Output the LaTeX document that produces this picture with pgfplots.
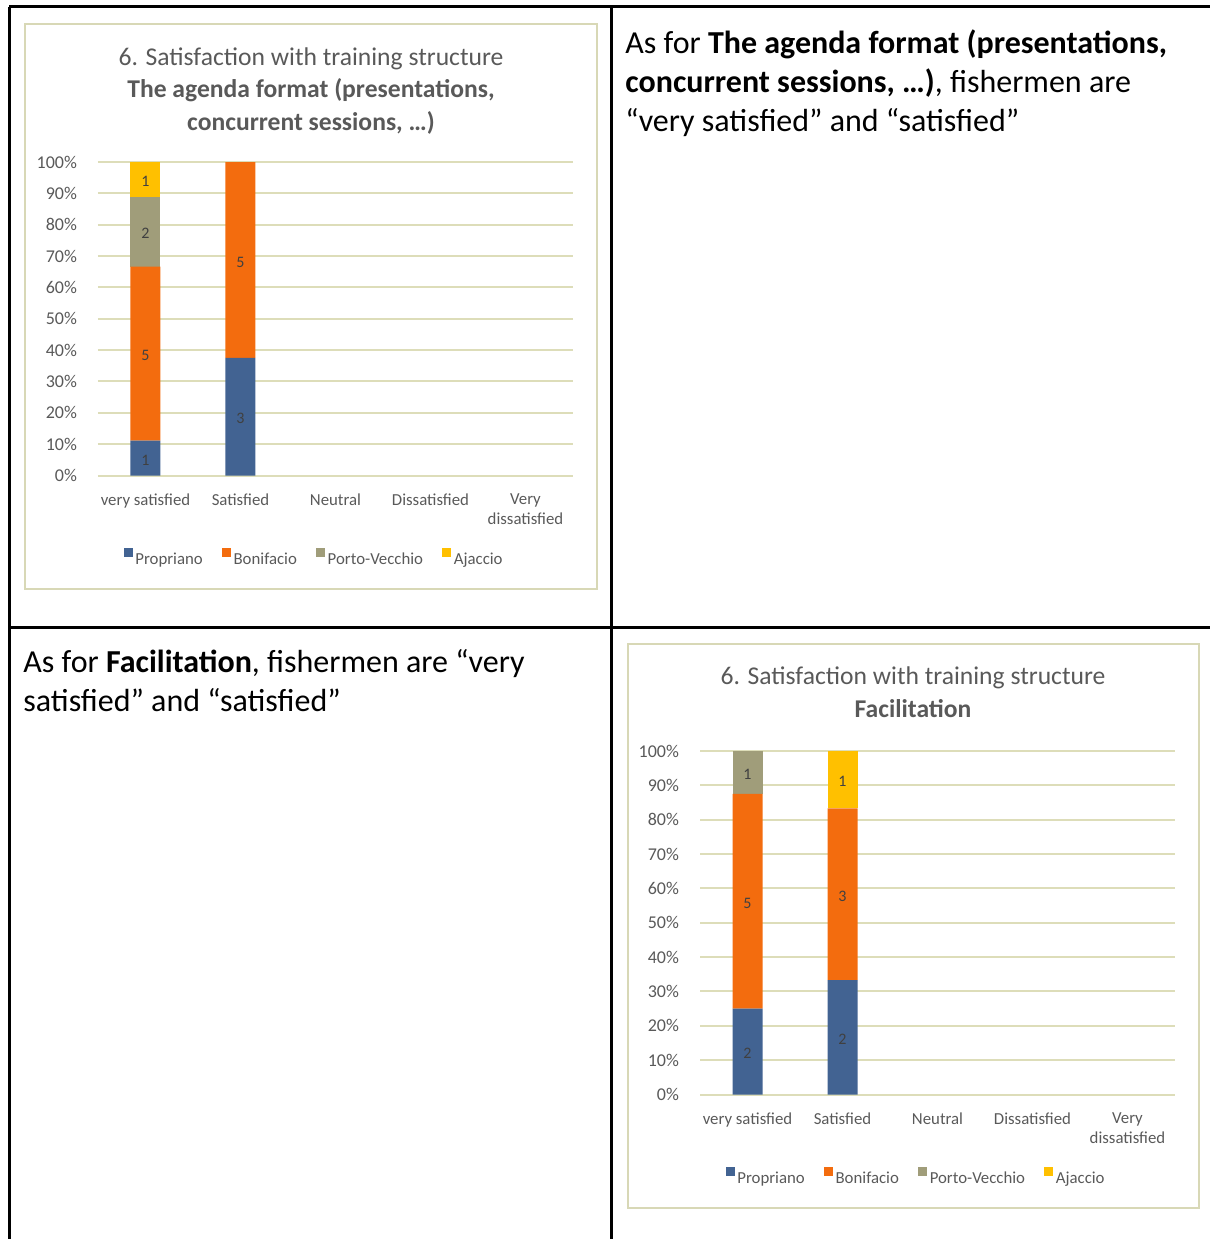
\documentclass[border=0pt]{standalone}
\usepackage{fontspec}
\setmainfont{Carlito}
\usepackage{pgfplots}
\usepackage{pgfplotstable}
\pgfplotsset{compat=1.18}

\definecolor{cProp}{RGB}{66,99,146}
\definecolor{cBon}{RGB}{243,108,14}
\definecolor{cPV}{RGB}{160,157,122}
\definecolor{cAj}{RGB}{255,192,0}
\definecolor{gridc}{RGB}{221,221,185}
\definecolor{framec}{RGB}{216,216,182}
\definecolor{txtgray}{RGB}{89,89,89}
\definecolor{lblgray}{RGB}{64,64,64}

% number of answers per town; cat 0 = very satisfied, 1 = satisfied
\pgfplotstableread{
cat prop bon pv aj total
0   1    5   2  1  9
1   3    5   0  0  8
}\agenda
\pgfplotstableread{
cat prop bon pv aj total
0   2    5   1  0  8
1   2    3   0  1  6
}\facil

\pgfplotsset{
  satisfaction/.style={
    scale only axis,
    anchor=south west,
    width=237.5pt,
    ybar stacked,
    bar width=15pt,
    ymin=0, ymax=100,
    xmin=-0.5, xmax=4.5,
    enlargelimits=false,
    xtick={0,...,4},
    xticklabels={very satisfied,Satisfied,Neutral,Dissatisfied,Very\\dissatisfied},
    xticklabel style={align=center, font=\fontsize{8.4}{10}\selectfont,
      text=txtgray, yshift=-5.5pt},
    ytick={0,10,...,100},
    yticklabel={\pgfmathprintnumber{\tick}\%},
    yticklabel style={font=\fontsize{9}{10}\selectfont, text=txtgray, xshift=-7pt},
    /pgf/number format/assume math mode=true,
    ymajorgrids,
    grid style={gridc, line width=1pt},
    axis line style={draw=none},
    major tick length=0pt,
    point meta=explicit,
    % the count of answers, in the middle of its segment
    nodes near coords={\pgfmathfloatifflags{\pgfplotspointmeta}{0}{}{\pgfmathprintnumber{\pgfplotspointmeta}}},
    every node near coord/.append style={anchor=center, text=lblgray,
      font=\fontsize{8}{9}\selectfont, yshift=-1pt},
    legend columns=4,
    legend style={draw=none, fill=none, anchor=center,
      font=\fontsize{8.4}{10}\selectfont, text=txtgray,
      nodes={inner xsep=1.2pt},
      /tikz/every even column/.append style={column sep=8.5pt}},
    legend image code/.code={\fill[##1] (0pt,1.5pt) rectangle (4.5pt,6pt);},
  },
  town/.style={fill=#1, draw=none},
}

\begin{document}
\begin{tikzpicture}
\begin{scope}[x=0.5pt, y=-0.5pt]
  \path[use as bounding box] (0,0) rectangle (1210,1239);
  % table rules
  \draw[line width=1.5pt] (9.3,6.5) -- (1210,6.5);
  \draw[line width=1.5pt] (9.3,6.5) -- (9.3,1239);
  \draw[line width=1.5pt] (611.5,6.5) -- (611.5,1239);
  \draw[line width=1.75pt] (9.3,627.5) -- (1210,627.5);
  % chart frames
  \draw[framec, line width=0.8pt] (25,24) rectangle (597,589);
  \draw[framec, line width=0.8pt] (628,644) rectangle (1199,1208);
  % chart titles (placed at the baseline of their last line)
  \node[anchor=base, align=center, text=txtgray,
        font=\fontsize{12.8}{16.25}\selectfont] at (311,130)
    {6. Satisfaction with training structure\\
     \textbf{The agenda format (presentations,}\\
     \textbf{concurrent sessions, …)}};
  \node[anchor=base, align=center, text=txtgray,
        font=\fontsize{12.8}{16.25}\selectfont] at (913,717)
    {6. Satisfaction with training structure\\
     \textbf{Facilitation}};
  % comments in the cells
  \node[anchor=base west, align=left, inner sep=0pt,
        font=\fontsize{16}{19.5}\selectfont] at (625,131)
    {As for \textbf{The agenda format (presentations,}\\
     \textbf{concurrent sessions, …)}, fishermen are\\
     “very satisfied” and “satisfied”};
  \node[anchor=base west, align=left, inner sep=0pt,
        font=\fontsize{16}{19.5}\selectfont] at (23,711)
    {As for \textbf{Facilitation}, fishermen are “very\\
     satisfied” and “satisfied”};
\end{scope}

% agenda format chart
\begin{axis}[satisfaction, at={(49pt,-237.75pt)}, height=156.75pt,
  legend style={at={(0.4558,-0.2695)}}]
  \addplot[town=cProp] table[x=cat, y expr={100*\thisrow{prop}/\thisrow{total}}, meta=prop] {\agenda};
  \addplot[town=cBon] table[x=cat, y expr={100*\thisrow{bon}/\thisrow{total}}, meta=bon] {\agenda};
  \addplot[town=cPV] table[x=cat, y expr={100*\thisrow{pv}/\thisrow{total}}, meta=pv] {\agenda};
  \addplot[town=cAj] table[x=cat, y expr={100*\thisrow{aj}/\thisrow{total}}, meta=aj] {\agenda};
  \legend{Propriano,Bonifacio,Porto-Vecchio,Ajaccio}
\end{axis}

% facilitation chart
\begin{axis}[satisfaction, at={(350pt,-547.25pt)}, height=171.75pt,
  legend style={at={(0.4558,-0.246)}}]
  \addplot[town=cProp] table[x=cat, y expr={100*\thisrow{prop}/\thisrow{total}}, meta=prop] {\facil};
  \addplot[town=cBon] table[x=cat, y expr={100*\thisrow{bon}/\thisrow{total}}, meta=bon] {\facil};
  \addplot[town=cPV] table[x=cat, y expr={100*\thisrow{pv}/\thisrow{total}}, meta=pv] {\facil};
  \addplot[town=cAj] table[x=cat, y expr={100*\thisrow{aj}/\thisrow{total}}, meta=aj] {\facil};
  \legend{Propriano,Bonifacio,Porto-Vecchio,Ajaccio}
\end{axis}
\end{tikzpicture}
\end{document}
